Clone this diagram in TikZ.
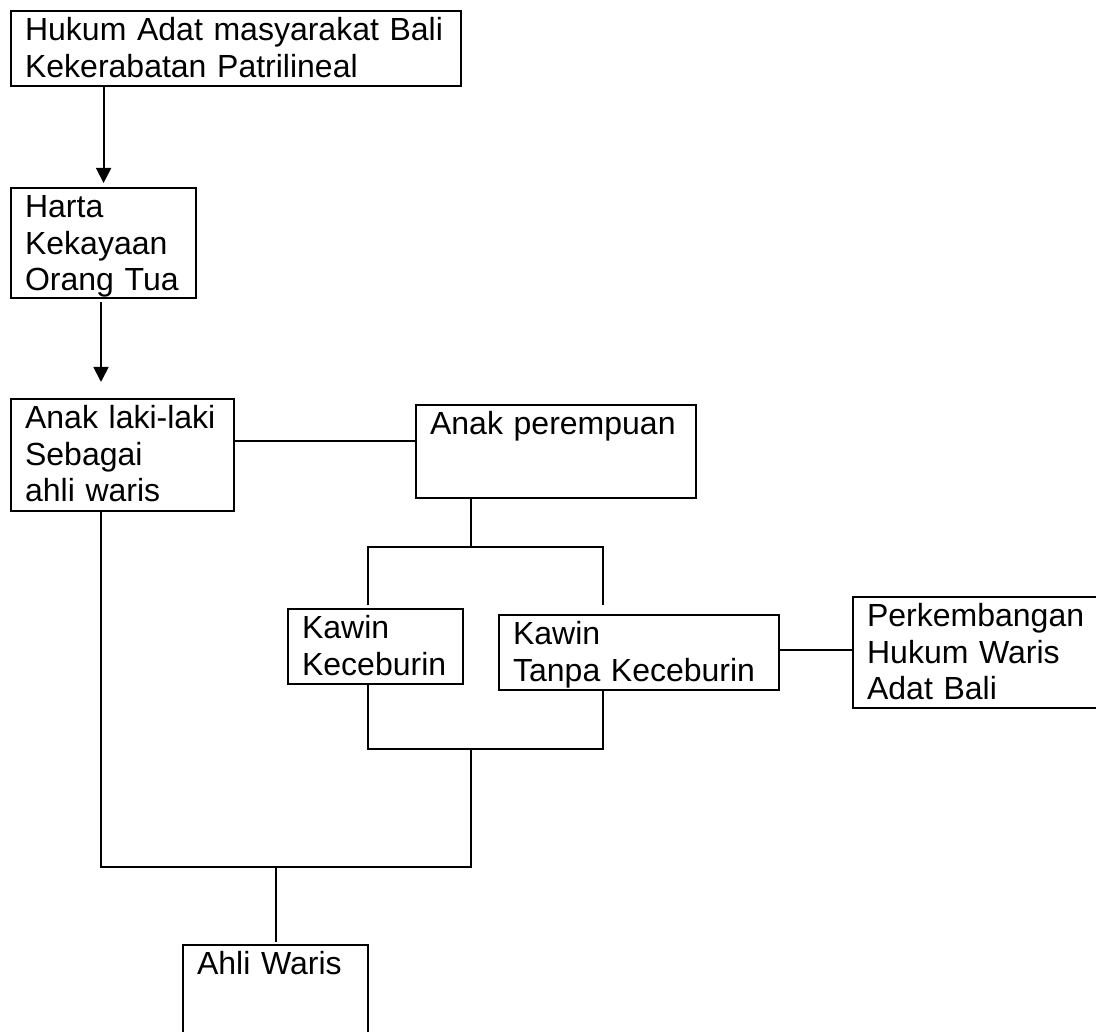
\documentclass[tikz,border=0pt]{standalone}
\usepackage{fontspec}
\setmainfont{Liberation Sans}
\usetikzlibrary{arrows.meta}

\tikzset{
  kotak/.style={draw, line width=2.2pt, anchor=north west, align=left,
    inner xsep=14pt, inner ysep=0pt, text height=29.5pt,
    font=\fontsize{32}{36.5}\selectfont},
  garis/.style={line width=1.8pt},
  panah/.style={garis, -{Triangle[width=15pt,length=15pt]}}
}

\begin{document}
\begin{tikzpicture}[x=1pt, y=-1pt]
				\useasboundingbox (0,0) rectangle (1096,1032);
				
				% Draw the boxes
				\node[kotak, text width=422pt, text depth=45.5pt] (hukum) at (10,10) {Hukum Adat masyarakat Bali\\Kekerabatan Patrilineal};
				\node[kotak, text width=157pt, text depth=80.5pt] (harta) at (10,187) {Harta\\Kekayaan\\Orang Tua};
				\node[kotak, text width=195pt, text depth=82.5pt] (anaklaki) at (10,398) {Anak laki-laki\\Sebagai\\ahli waris};
				\node[kotak, text width=252pt, text depth=63.5pt] (anakpr) at (415,404) {Anak perempuan};
				\node[kotak, text width=147pt, text depth=45.5pt] (keceburin) at (287,608) {Kawin\\Keceburin};
				\node[kotak, text width=252pt, text depth=45.5pt] (tanpa) at (498,614) {Kawin\\Tanpa Keceburin};
				\node[kotak, text width=242pt, text depth=81.5pt] (perkembangan) at (852,596) {Perkembangan\\Hukum Waris\\Adat Bali};
				\node[kotak, text width=157pt, text depth=90.5pt] (ahliwaris) at (182,944) {Ahli Waris};
				
				% Junction points
				\coordinate (cabang) at (471,547);
				\coordinate (kiri) at (368,547);
				\coordinate (kanan) at (603,547);
				\coordinate (gabung) at (471,749);
				\coordinate (kiribawah) at (101,867);
				
				% Draw arrows and lines
				\draw[panah, shorten >=4pt] (harta.north |- hukum.south) -- (harta.north);
				\draw[panah, shorten <=3pt, shorten >=16pt] (kiribawah |- harta.south) -- (kiribawah |- anaklaki.north);
				\draw[garis] ([yshift=-43pt]anaklaki.north east) -- ([yshift=-43pt]anaklaki.north east -| anakpr.west);
				\draw[garis] (cabang |- anakpr.south) -- (cabang);
				\draw[garis] (kiri) ++(0,58) -- (kiri) -- (kanan) -- ++(0,58);
				\draw[garis] ([yshift=2.5pt]tanpa.east) -- ([yshift=2.5pt]tanpa.east -| perkembangan.west);
				\draw[garis] (kiri |- keceburin.south) -- (kiri |- gabung) -- (kanan |- gabung) -- (kanan |- tanpa.south);
				\draw[garis] (kiribawah |- anaklaki.south) -- (kiribawah) -- (gabung |- kiribawah) -- (gabung);
				\draw[garis] (ahliwaris.north |- kiribawah) -- ([yshift=2pt]ahliwaris.north);
			\end{tikzpicture}
\end{document}
